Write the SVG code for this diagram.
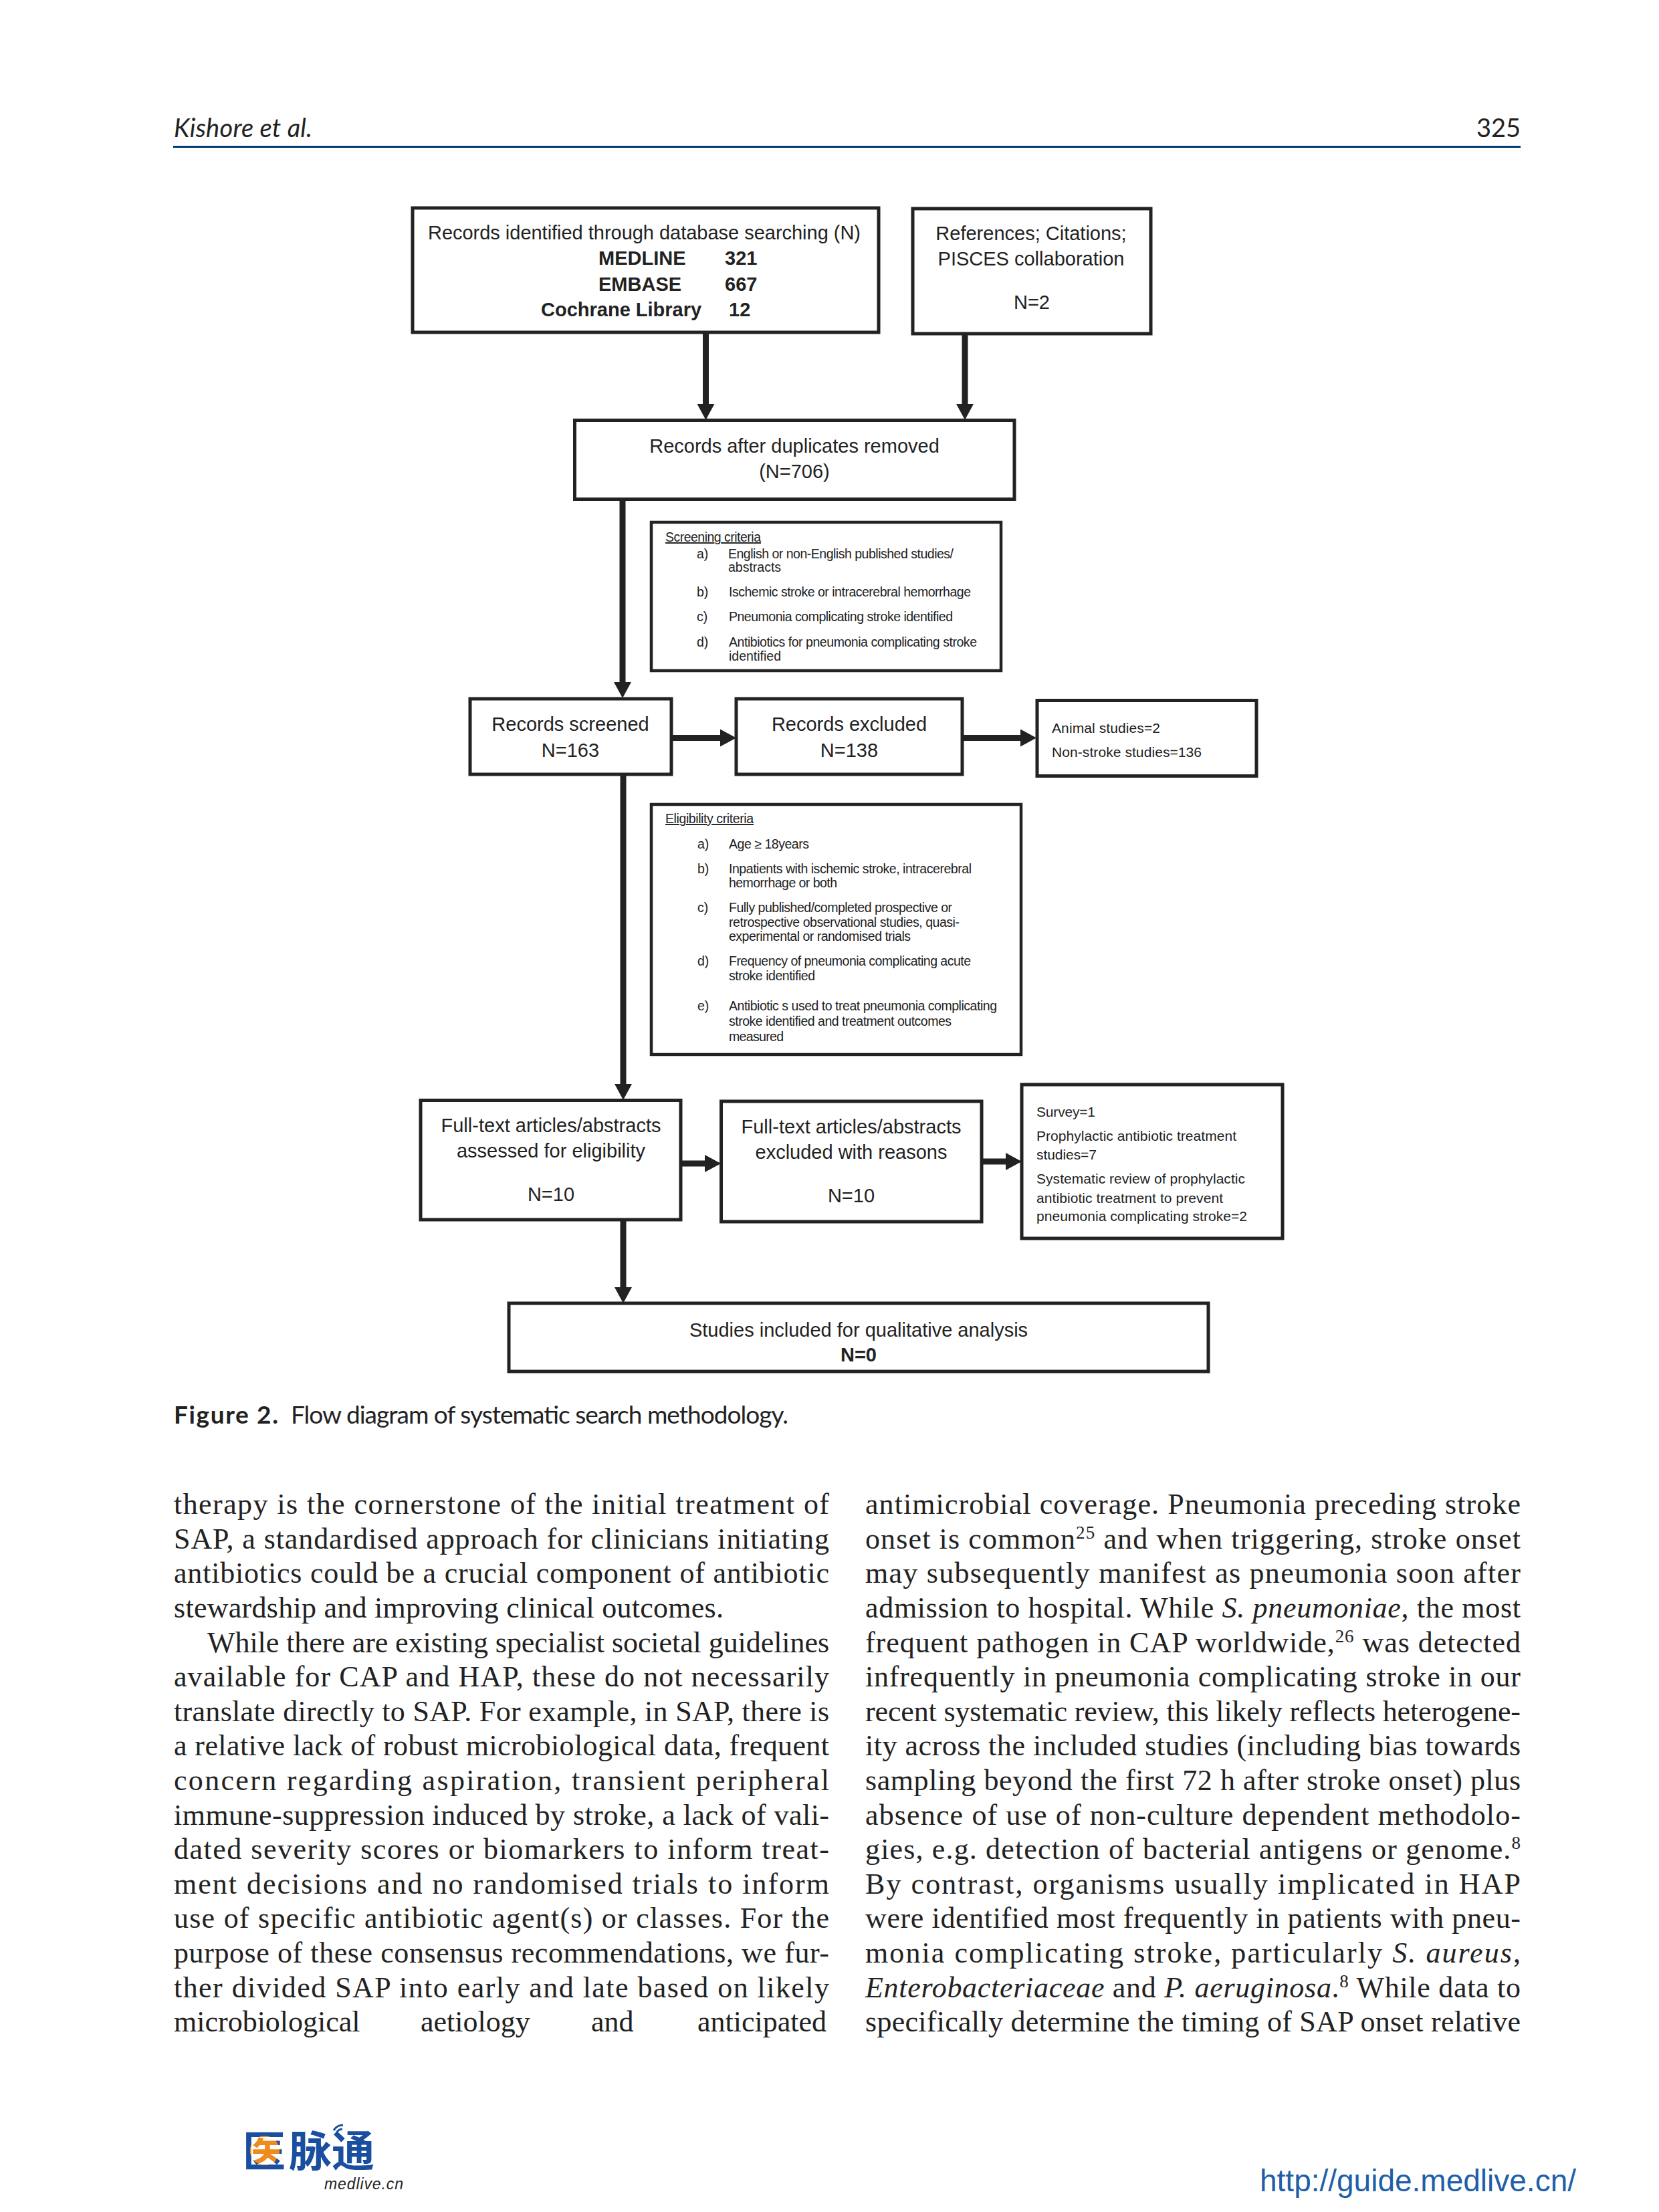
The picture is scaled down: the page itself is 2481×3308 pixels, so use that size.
<svg xmlns="http://www.w3.org/2000/svg" width="2481" height="3308" viewBox="0 0 2481 3308">
<style>
text{fill:#222;font-family:"Liberation Sans",Arial,sans-serif}
.box{fill:#fff;stroke:#222;stroke-width:5}
.thin{fill:#fff;stroke:#222;stroke-width:4.5}
.m{font-size:29px}
.c{text-anchor:middle}
.b{font-weight:700}
.s{font-size:19.5px}
.o{font-size:21px}
.body text,.body{font-family:"Liberation Serif","Times New Roman",serif;font-size:44px}
.gill{font-family:Lato,"Open Sans",sans-serif}
.con{stroke:#222;stroke-width:9;fill:none;marker-end:url(#ah)}
.sup{font-size:27px}
.i{font-style:italic}
</style>
<defs>
<marker id="ah" markerUnits="userSpaceOnUse" markerWidth="25" markerHeight="28" refX="0" refY="14" orient="auto"><path d="M0,1 L24,14 L0,27 z" fill="#222"/></marker>
<radialGradient id="yi" gradientUnits="userSpaceOnUse" cx="396" cy="3216" r="22"><stop offset="1" stop-color="#ef8a1d"/><stop offset="1" stop-color="#1a4f9f"/></radialGradient>
</defs>
<rect width="2481" height="3308" fill="#fff"/>
<g id="header">
<text class="gill i" x="260" y="205" font-size="38" textLength="207">Kishore et al.</text>
<text class="gill" x="2274" y="205" font-size="38" text-anchor="end">325</text>
<rect x="259" y="218" width="2015" height="3" fill="#003a70"/>
</g>
<g id="connectors">
<path class="con" d="M1055.5,497V604"/>
<path class="con" d="M1443,499V604"/>
<path class="con" d="M931,746V1020"/>
<path class="con" d="M932,1158V1621"/>
<path class="con" d="M932,1824V1925"/>
<path class="con" d="M1005,1103.5H1077"/>
<path class="con" d="M1439,1103.5H1526"/>
<path class="con" d="M1018,1740H1054"/>
<path class="con" d="M1468,1737H1504"/>
</g>
<g id="n-records-identified">
<rect class="box" x="617" y="311" width="697" height="186"/>
<text class="m" x="640" y="358" textLength="647">Records identified through database searching (N)</text>
<text class="m b" x="895" y="396">MEDLINE</text><text class="m b" x="1084" y="396">321</text>
<text class="m b" x="895" y="435">EMBASE</text><text class="m b" x="1084" y="435">667</text>
<text class="m b" x="809" y="473">Cochrane Library</text><text class="m b" x="1090" y="473">12</text>
</g>
<g id="n-references">
<rect class="box" x="1365" y="312" width="356" height="187"/>
<text class="m c" x="1542" y="359">References; Citations;</text>
<text class="m c" x="1542" y="397">PISCES collaboration</text>
<text class="m c" x="1543" y="462">N=2</text>
</g>
<g id="n-duplicates">
<rect class="box" x="859.5" y="628.5" width="657.5" height="118"/>
<text class="m c" x="1188" y="677">Records after duplicates removed</text>
<text class="m c" x="1188" y="715">(N=706)</text>
</g>
<g id="n-screening-criteria">
<rect class="thin" x="974" y="781" width="523" height="222"/>
<text class="s" x="995" y="810" text-decoration="underline" textLength="143">Screening criteria</text>
<text class="s" x="1042" y="835">a)</text><text class="s" x="1089" y="835" textLength="337">English or non-English published studies/</text>
<text class="s" x="1089" y="855">abstracts</text>
<text class="s" x="1042" y="892">b)</text><text class="s" x="1090" y="892" textLength="362">Ischemic stroke or intracerebral hemorrhage</text>
<text class="s" x="1042" y="929">c)</text><text class="s" x="1090" y="929" textLength="335">Pneumonia complicating stroke identified</text>
<text class="s" x="1042" y="967">d)</text><text class="s" x="1090" y="967" textLength="371">Antibiotics for pneumonia complicating stroke</text>
<text class="s" x="1090" y="988">identified</text>
</g>
<g id="n-records-screened">
<rect class="box" x="703" y="1045" width="301" height="113"/>
<text class="m c" x="853" y="1093">Records screened</text>
<text class="m c" x="853" y="1132">N=163</text>
</g>
<g id="n-records-excluded">
<rect class="box" x="1101" y="1045" width="338" height="113"/>
<text class="m c" x="1270" y="1093">Records excluded</text>
<text class="m c" x="1270" y="1132">N=138</text>
</g>
<g id="n-excluded-detail">
<rect class="box" x="1551" y="1047.5" width="328" height="113"/>
<text class="o" x="1573" y="1096" textLength="162">Animal studies=2</text>
<text class="o" x="1573" y="1132" textLength="224">Non-stroke studies=136</text>
</g>
<g id="n-eligibility-criteria">
<rect class="thin" x="974" y="1203" width="553" height="374"/>
<text class="s" x="995" y="1231" text-decoration="underline" textLength="132">Eligibility criteria</text>
<text class="s" x="1043" y="1269">a)</text><text class="s" x="1090" y="1269" textLength="120">Age ≥ 18years</text>
<text class="s" x="1043" y="1306">b)</text><text class="s" x="1090" y="1306" textLength="363">Inpatients with ischemic stroke, intracerebral</text>
<text class="s" x="1090" y="1327" textLength="162">hemorrhage or both</text>
<text class="s" x="1043" y="1364">c)</text><text class="s" x="1090" y="1364" textLength="334">Fully published/completed prospective or</text>
<text class="s" x="1090" y="1386" textLength="345">retrospective observational studies, quasi-</text>
<text class="s" x="1090" y="1407" textLength="272">experimental or randomised trials</text>
<text class="s" x="1043" y="1444">d)</text><text class="s" x="1090" y="1444" textLength="362">Frequency of pneumonia complicating acute</text>
<text class="s" x="1090" y="1466" textLength="129">stroke identified</text>
<text class="s" x="1043" y="1511">e)</text><text class="s" x="1090" y="1511" textLength="401">Antibiotic s used to treat pneumonia complicating</text>
<text class="s" x="1090" y="1534" textLength="333">stroke identified and treatment outcomes</text>
<text class="s" x="1090" y="1557" textLength="82">measured</text>
</g>
<g id="n-fulltext-assessed">
<rect class="box" x="629" y="1645.5" width="389" height="178.5"/>
<text class="m c" x="824" y="1693" textLength="329">Full-text articles/abstracts</text>
<text class="m c" x="824" y="1731">assessed for eligibility</text>
<text class="m c" x="824" y="1796">N=10</text>
</g>
<g id="n-fulltext-excluded">
<rect class="box" x="1078.5" y="1647" width="389.5" height="180"/>
<text class="m c" x="1273" y="1695" textLength="329">Full-text articles/abstracts</text>
<text class="m c" x="1273" y="1733">excluded with reasons</text>
<text class="m c" x="1273" y="1798">N=10</text>
</g>
<g id="n-fulltext-detail">
<rect class="box" x="1528" y="1622" width="390" height="230"/>
<text class="o" x="1550" y="1670" textLength="88">Survey=1</text>
<text class="o" x="1550" y="1706" textLength="299">Prophylactic antibiotic treatment</text>
<text class="o" x="1550" y="1734" textLength="90">studies=7</text>
<text class="o" x="1550" y="1770" textLength="312">Systematic review of prophylactic</text>
<text class="o" x="1550" y="1799" textLength="279">antibiotic treatment to prevent</text>
<text class="o" x="1550" y="1826" textLength="315">pneumonia complicating stroke=2</text>
</g>
<g id="n-studies-included">
<rect class="box" x="761" y="1949" width="1046" height="102"/>
<text class="m c" x="1284" y="1999">Studies included for qualitative analysis</text>
<text class="m c b" x="1284" y="2036">N=0</text>
</g>
<g id="caption">
<text class="gill b" x="260" y="2129" font-size="37" textLength="156">Figure 2.</text>
<text class="gill" x="435" y="2129" font-size="37" textLength="744">Flow diagram of systematic search methodology.</text>
</g>
<g class="body" id="left-column" transform="translate(0,1.5)">
<text x="260" y="2262" textLength="980">therapy is the cornerstone of the initial treatment of</text>
<text x="260" y="2314" textLength="980">SAP, a standardised approach for clinicians initiating</text>
<text x="260" y="2365" textLength="980">antibiotics could be a crucial component of antibiotic</text>
<text x="260" y="2417" textLength="822">stewardship and improving clinical outcomes.</text>
<text x="310" y="2469" textLength="930">While there are existing specialist societal guidelines</text>
<text x="260" y="2520" textLength="980">available for CAP and HAP, these do not necessarily</text>
<text x="260" y="2572" textLength="980">translate directly to SAP. For example, in SAP, there is</text>
<text x="260" y="2623" textLength="980">a relative lack of robust microbiological data, frequent</text>
<text x="260" y="2675" textLength="980">concern regarding aspiration, transient peripheral</text>
<text x="260" y="2727" textLength="980">immune-suppression induced by stroke, a lack of vali-</text>
<text x="260" y="2778" textLength="980">dated severity scores or biomarkers to inform treat-</text>
<text x="260" y="2830" textLength="980">ment decisions and no randomised trials to inform</text>
<text x="260" y="2881" textLength="980">use of specific antibiotic agent(s) or classes. For the</text>
<text x="260" y="2933" textLength="980">purpose of these consensus recommendations, we fur-</text>
<text x="260" y="2985" textLength="980">ther divided SAP into early and late based on likely</text>
<text x="260" y="3036">microbiological<tspan x="629">aetiology</tspan><tspan x="884">and</tspan><tspan x="1043">anticipated</tspan></text>
</g>
<g class="body" id="right-column" transform="translate(0,1.5)">
<text x="1294" y="2262" textLength="980">antimicrobial coverage. Pneumonia preceding stroke</text>
<text x="1294" y="2314" textLength="980">onset is common<tspan class="sup" dy="-15">25</tspan><tspan dy="15"> and when triggering, stroke onset</tspan></text>
<text x="1294" y="2365" textLength="980">may subsequently manifest as pneumonia soon after</text>
<text x="1294" y="2417" textLength="980">admission to hospital. While <tspan class="i">S. pneumoniae</tspan>, the most</text>
<text x="1294" y="2469" textLength="980">frequent pathogen in CAP worldwide,<tspan class="sup" dy="-15">26</tspan><tspan dy="15"> was detected</tspan></text>
<text x="1294" y="2520" textLength="980">infrequently in pneumonia complicating stroke in our</text>
<text x="1294" y="2572" textLength="980">recent systematic review, this likely reflects heterogene-</text>
<text x="1294" y="2623" textLength="980">ity across the included studies (including bias towards</text>
<text x="1294" y="2675" textLength="980">sampling beyond the first 72 h after stroke onset) plus</text>
<text x="1294" y="2727" textLength="980">absence of use of non-culture dependent methodolo-</text>
<text x="1294" y="2778" textLength="980">gies, e.g. detection of bacterial antigens or genome.<tspan class="sup" dy="-15">8</tspan></text>
<text x="1294" y="2830" textLength="980">By contrast, organisms usually implicated in HAP</text>
<text x="1294" y="2881" textLength="980">were identified most frequently in patients with pneu-</text>
<text x="1294" y="2933" textLength="980">monia complicating stroke, particularly <tspan class="i">S. aureus</tspan>,</text>
<text x="1294" y="2985" textLength="980"><tspan class="i">Enterobacteriaceae</tspan> and <tspan class="i">P. aeruginosa</tspan>.<tspan class="sup" dy="-15">8</tspan><tspan dy="15"> While data to</tspan></text>
<text x="1294" y="3036" textLength="980">specifically determine the timing of SAP onset relative</text>
</g>
<g id="logo">
<text x="363" y="3240" font-size="64" font-weight="700" style="font-family:'Noto Sans CJK SC','Noto Sans CJK JP',sans-serif;fill:url(#yi)">医</text>
<text x="432" y="3240" font-size="64" font-weight="700" style="font-family:'Noto Sans CJK SC','Noto Sans CJK JP',sans-serif;fill:#1a4f9f">脉通</text>
<path d="M499,3186a16,16 0 0 1 14,-8M503,3190a10,10 0 0 1 9,-6" fill="none" stroke="#1a4f9f" stroke-width="3"/>
<text class="i" x="485" y="3274" font-size="23" textLength="118">medlive.cn</text>
</g>
<text id="url" x="1884" y="3277" font-size="46" textLength="473" style="fill:#1f5fa8">http://guide.medlive.cn/</text>
</svg>
